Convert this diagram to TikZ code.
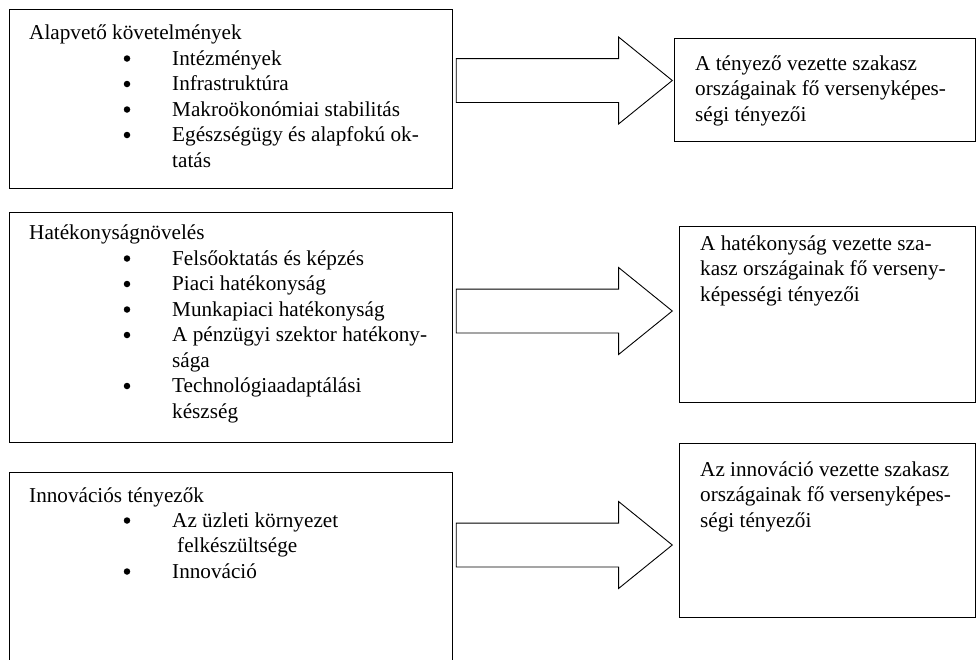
\documentclass[tikz,border=0pt]{standalone}
\usepackage{fontspec}
\setmainfont{Liberation Serif}
\usetikzlibrary{shapes.arrows}
\tikzset{
  box/.style={draw, line width=1.1pt, anchor=north west, inner sep=0pt},
  txt/.style={anchor=base west, inner sep=0pt, font=\fontsize{21.2}{25.5}\selectfont},
  dot/.style={circle, fill, inner sep=0pt, minimum size=6.5pt, yshift=6.5pt},
  bigarrow/.style={draw, line width=0.9pt, single arrow, anchor=tip,
    minimum height=216pt, minimum width=86pt, inner sep=0pt, inner ysep=21.5pt,
    single arrow head extend=21.5pt, single arrow tip angle=78},
}
\begin{document}
\begin{tikzpicture}[x=1pt, y=-1pt]
\clip (0,0) rectangle (977,659);
\fill[white] (0,0) rectangle (977,659);
% left boxes
\node[box, minimum width=443pt, minimum height=179pt] (alap) at (9,9) {};
\node[box, minimum width=443pt, minimum height=230pt] (hatek) at (9,212) {};
\node[box, minimum width=443pt, minimum height=240pt] (innov) at (9,472) {};
% right boxes
\node[box, minimum width=301pt, minimum height=103pt] (alapki) at (674,38) {};
\node[box, minimum width=296pt, minimum height=176pt] (hatekki) at (679,226) {};
\node[box, minimum width=296pt, minimum height=174pt] (innovki) at (679,443) {};
% arrows
\node[bigarrow] (nyil1) at (673,80.5) {};
\node[bigarrow] (nyil2) at (673,311) {};
\node[bigarrow] (nyil3) at (673,545) {};
% first box
\node[txt] (a0) at (29,39) {Alapvető követelmények};
\node[dot] (a1p) at (127,65) {};
\node[txt] (a1) at (172,65) {Intézmények};
\node[dot] (a2p) at (127,90.5) {};
\node[txt] (a2) at (172,90.5) {Infrastruktúra};
\node[dot] (a3p) at (127,116) {};
\node[txt] (a3) at (172,116) {Makroökonómiai stabilitás};
\node[dot] (a4p) at (127,141.5) {};
\node[txt] (a4) at (172,141.5) {Egészségügy és alapfokú ok-};
\node[txt] (a4b) at (172,167) {tatás};
% second box
\node[txt] (h0) at (29,239) {Hatékonyságnövelés};
\node[dot] (h1p) at (127,265) {};
\node[txt] (h1) at (172,265) {Felsőoktatás és képzés};
\node[dot] (h2p) at (127,290.5) {};
\node[txt] (h2) at (172,290.5) {Piaci hatékonyság};
\node[dot] (h3p) at (127,316) {};
\node[txt] (h3) at (172,316) {Munkapiaci hatékonyság};
\node[dot] (h4p) at (127,341.5) {};
\node[txt] (h4) at (172,341.5) {A pénzügyi szektor hatékony-};
\node[txt] (h4b) at (172,367) {sága};
\node[dot] (h5p) at (127,392.5) {};
\node[txt] (h5) at (172,392.5) {Technológiaadaptálási};
\node[txt] (h5b) at (172,418) {készség};
% third box
\node[txt] (i0) at (29,502) {Innovációs tényezők};
\node[dot] (i1p) at (127,527) {};
\node[txt] (i1) at (172,527) {Az üzleti környezet};
\node[txt] (i1b) at (177,552.5) {felkészültsége};
\node[dot] (i2p) at (127,578) {};
\node[txt] (i2) at (172,578) {Innováció};
% right texts
\node[txt] (k1a) at (695,70) {A tényező vezette szakasz};
\node[txt] (k1b) at (695,95.5) {országainak fő versenyképes-};
\node[txt] (k1c) at (695,121) {ségi tényezői};
\node[txt] (k2a) at (700,250) {A hatékonyság vezette sza-};
\node[txt] (k2b) at (700,275.5) {kasz országainak fő verseny-};
\node[txt] (k2c) at (700,301) {képességi tényezői};
\node[txt] (k3a) at (700,476) {Az innováció vezette szakasz};
\node[txt] (k3b) at (700,501.5) {országainak fő versenyképes-};
\node[txt] (k3c) at (700,527) {ségi tényezői};
\end{tikzpicture}
\end{document}
